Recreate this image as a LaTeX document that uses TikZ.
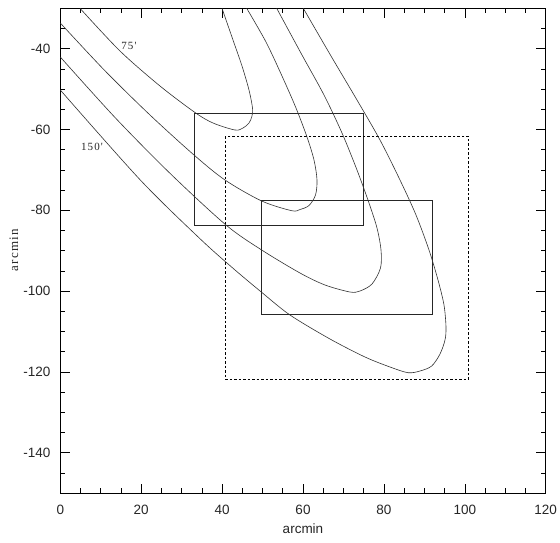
\documentclass[tikz,border=0pt]{standalone}
\usepackage{fontspec}
\setsansfont{Liberation Sans}
\newfontfamily\labfont[LetterSpace=10]{Liberation Serif}
\begin{document}
\begin{tikzpicture}[x=1pt,y=-1pt,
  frame/.style={line width=0.8pt},
  tickline/.style={line width=0.6pt},
  contour/.style={line width=0.6pt, draw=black!80},
  boxline/.style={line width=0.8pt, draw=black!85},
  dashbox/.style={line width=0.7pt, dash pattern=on 2.5pt off 2pt},
  ticklab/.style={font=\sffamily\fontsize{13.5}{13.5}\selectfont, text=black!85, inner sep=0pt},
  curvelab/.style={font=\labfont\fontsize{11}{11}\selectfont, text=black!85, inner sep=0pt}]
\useasboundingbox (0,0) rectangle (560,542);
\fill[white] (0,0) rectangle (560,542);
% frame
\draw[frame] (60.3,8.3) rectangle (545.7,493.1);
% x ticks
\foreach \v in {5,10,...,115} {
  \pgfmathsetmacro\px{60.3+4.045*\v}
  \pgfmathsetmacro\len{mod(\v,20)==0 ? 9.5 : 4.8}
  \draw[tickline] (\px,493.1) -- (\px,{493.1-\len});
  \draw[tickline] (\px,8.3) -- (\px,{8.3+\len});
}
% y ticks
\foreach \v in {-145,-140,...,-35} {
  \pgfmathsetmacro\py{-112.9-4.04*\v}
  \pgfmathsetmacro\len{mod(\v,20)==0 ? 9.5 : 4.8}
  \draw[tickline] (60.3,\py) -- ({60.3+\len},\py);
  \draw[tickline] (545.7,\py) -- ({545.7-\len},\py);
}
% x labels
\foreach \v in {0,20,...,120} {
  \pgfmathsetmacro\px{60.3+4.045*\v}
  \node[ticklab] (xl\v) at (\px,510) {\v};
}
% y labels
\foreach \v in {-140,-120,...,-40} {
  \pgfmathsetmacro\py{-112.9-4.04*\v}
  \node[ticklab, anchor=east] (yl\v) at (50.5,\py) {\v};
}
\node[ticklab] (xtitle) at (303,529) {arcmin};
\node[font=\labfont\fontsize{13}{13}\selectfont, text=black!85, rotate=90, inner sep=0pt] (ytitle) at (14,250) {arcmin};
% boxes
\draw[boxline] (194,113.3) rectangle (363.3,225);
\draw[boxline] (261.7,200.7) rectangle (432.7,314);
\draw[dashbox] (225.3,136) rectangle (468.3,379.3);
% contours
\draw[contour] plot[smooth, tension=0.5] coordinates {
 (80,8.3) (120,51) (160,86) (195,112.5) (213,123) (235,130)
 (243,128) (249,123) (252,116) (252.5,108) (249,90) (242,66) (233,40) (222,8.3)};
\draw[contour] plot[smooth, tension=0.5] coordinates {
 (60.3,23) (105,70.8) (150,115) (194,155) (225,180) (261.7,201) (291.7,210.7)
 (300,209.5) (309,205.5) (315.5,195) (317,180) (314,160) (307,137) (296,108) (282,76) (266,42) (246.7,8.3)};
\draw[contour] plot[smooth, tension=0.5] coordinates {
 (60.3,57) (115.3,117.8) (170.3,173.6) (226,225) (261.7,250) (300,273) (325,285) (350,292)
 (360,291) (372,284) (380.5,268) (381,250) (377,228) (369,203) (357,170) (342,133) (324,95) (302,55) (276.7,8.3)};
\draw[contour] plot[smooth, tension=0.5] coordinates {
 (60.3,90) (140.3,180) (200.3,239) (233.3,268.5) (261.3,292) (290,315) (330,339) (365,357)
 (390,367) (408,372.7) (420,371) (431.7,366) (440,354) (445,340) (446,327)
 (444,305) (438,280) (429,250) (416,215) (400,180) (380,140) (357,100) (331,56) (303.3,8.3)};
% contour labels
\node[curvelab] (l75) at (129,46) {75'};
\node[curvelab] (l150) at (92,147) {150'};
\end{tikzpicture}
\end{document}
